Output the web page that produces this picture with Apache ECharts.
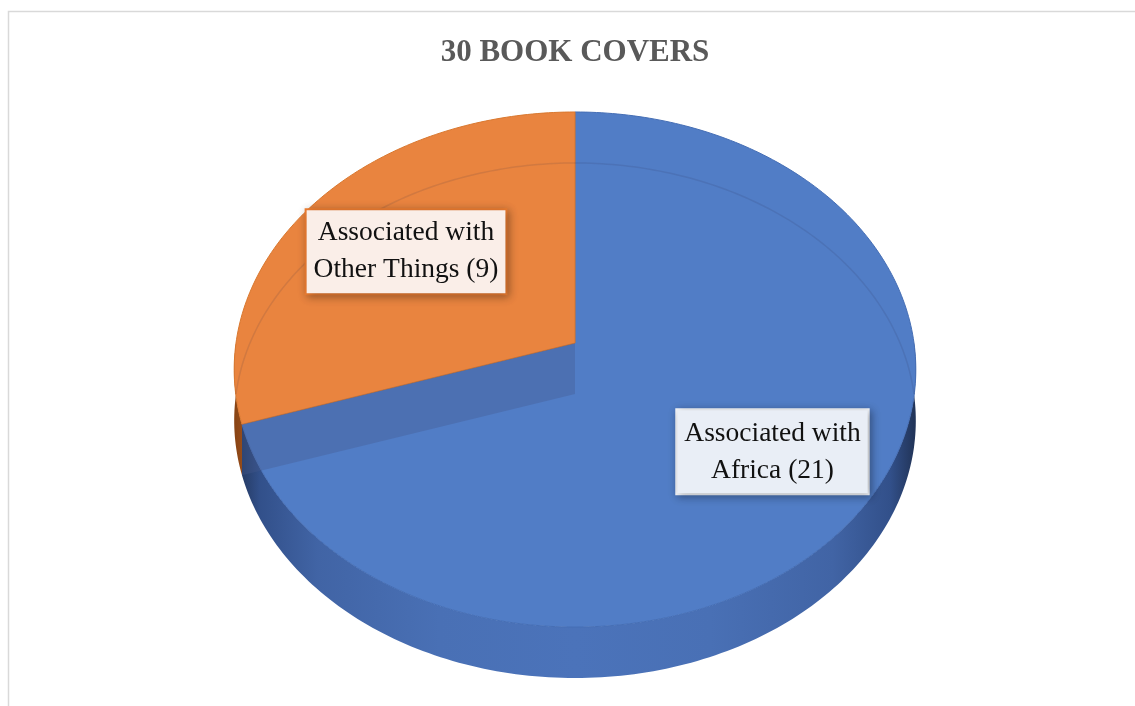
<!DOCTYPE html>
<html>
<head>
<meta charset="utf-8">
<script src="https://cdn.jsdelivr.net/npm/echarts@6/dist/echarts.min.js"></script>
<style>
  html, body { margin: 0; padding: 0; background: #ffffff; }
  #chart { width: 1135px; height: 706px; }
</style>
</head>
<body>
<div id="chart"></div>
<script>
// ---- data ----
const titleText = '30 BOOK COVERS';
const categories = ['Associated with\nAfrica', 'Associated with\nOther Things'];
const values = [21, 9];

// ---- style / layout (not data) ----
const topColors = ['#517DC6', '#E9843F'];
const edgeColors = ['#456EB5', '#D9782F'];
const labelBg = ['#E9EEF6', '#FAEEE8'];
const labelBorder = ['#F4F6FA', '#ED7D31'];
const labelR = [0.69, 0.64];

const CX = 575, CY = 343, RX = 339, A = 254.8, K = -0.103, H = 51;

function proj(deg, r, dz) {
  const p = deg * Math.PI / 180;
  const sx = Math.sin(p), s = -Math.cos(p);
  const d = 1 + K * r * s;
  return [CX + RX * r * sx / d, CY + A * r * s / d + dz];
}
function arc(a0, a1, dz) {
  const pts = [];
  const n = Math.max(2, Math.ceil(Math.abs(a1 - a0) / 1));
  for (let k = 0; k <= n; k++) pts.push(proj(a0 + (a1 - a0) * k / n, 1, dz));
  return pts;
}

const total = values.reduce((a, b) => a + b, 0);

function sideFill(i) {
  const stops = i === 0 ? [
    { offset: 0, color: '#22355a' }, { offset: 0.035, color: '#32508a' },
    { offset: 0.12, color: '#4164a5' }, { offset: 0.3, color: '#4970b5' },
    { offset: 0.5, color: '#4b73ba' }, { offset: 0.7, color: '#4970b5' },
    { offset: 0.88, color: '#4164a5' }, { offset: 0.965, color: '#32508a' },
    { offset: 1, color: '#22355a' }
  ] : [
    { offset: 0, color: '#8a4515' }, { offset: 0.04, color: '#b8602a' },
    { offset: 0.2, color: '#d0702e' }, { offset: 1, color: '#d0702e' }
  ];
  return new echarts.graphic.LinearGradient(CX - RX, 0, CX + RX, 0, stops, true);
}

function renderItem(params, api) {
  const i = params.dataIndex;
  let start = 0;
  for (let j = 0; j < i; j++) start += values[j];
  const v = api.value(0);
  const a0 = start / total * 360, a1 = (start + v) / total * 360;
  const children = [];

  // outer side wall (front half only: 90..270)
  const lo = Math.max(a0, 90), hi = Math.min(a1, 270);
  if (lo < hi) {
    const pts = arc(lo, hi, 0).concat(arc(hi, lo, H));
    children.push({ type: 'polygon', shape: { points: pts }, style: { fill: sideFill(i) }, z2: 1 });
  }
  // top face
  const topPts = [proj(0, 0, 0)].concat(arc(a0, a1, 0));
  children.push({ type: 'polygon', shape: { points: topPts },
    style: { fill: topColors[i], stroke: edgeColors[i], lineWidth: 1 }, z2: 3 });

  // back bottom rim seen through transparent top
  const backRanges = [[Math.max(a0, 0), Math.min(a1, 90)], [Math.max(a0, 270), Math.min(a1, 360)]];
  backRanges.forEach(function (r) {
    if (r[0] < r[1]) {
      children.push({ type: 'polyline', shape: { points: arc(r[0], r[1], H) },
        style: { fill: null, stroke: 'rgba(40,40,70,0.12)', lineWidth: 1.5 }, z2: 4 });
    }
  });

  // interior radial wall seen through transparent top (start boundary, front facing)
  if (-Math.cos(a0 * Math.PI / 180) > 0) {
    const w = [proj(a0, 0, 0), proj(a0, 1, 0), proj(a0, 1, H), proj(a0, 0, H)];
    children.push({ type: 'polygon', shape: { points: w },
      style: { fill: 'rgba(70,90,140,0.35)' }, z2: 5 });
  }

  // label
  const mid = (a0 + a1) / 2;
  const lp = proj(mid, labelR[i], 0);
  children.push({
    type: 'text', x: lp[0], y: lp[1] + 1, z2: 10,
    style: {
      text: categories[i] + ' (' + v + ')',
      align: 'center', verticalAlign: 'middle',
      font: '27.5px "Liberation Serif", serif',
      lineHeight: 37,
      fill: '#111111',
      backgroundColor: labelBg[i],
      borderColor: labelBorder[i], borderWidth: 2,
      padding: [5, 7, 4, 7],
      shadowColor: 'rgba(0,0,0,0.3)', shadowBlur: 8, shadowOffsetX: 2, shadowOffsetY: 2
    }
  });
  return { type: 'group', children: children };
}

const chart = echarts.init(document.getElementById('chart'), null, { renderer: 'canvas' });
chart.setOption({
  animation: false,
  backgroundColor: '#ffffff',
  graphic: [
    { type: 'rect', shape: { x: 8.5, y: 11.5, width: 1300, height: 900 },
      style: { fill: null, stroke: '#d9d9d9', lineWidth: 1.5 }, silent: true },
    { type: 'text', x: 575, y: 53,
      style: { text: titleText, align: 'center', verticalAlign: 'middle',
        font: 'bold 31px "Liberation Serif", serif', fill: '#595959' } }
  ],
  series: [{
    type: 'custom',
    coordinateSystem: 'none',
    silent: true,
    renderItem: renderItem,
    data: values.map(function (v, i) { return { name: categories[i], value: [v] }; })
  }]
});
</script>
</body>
</html>
